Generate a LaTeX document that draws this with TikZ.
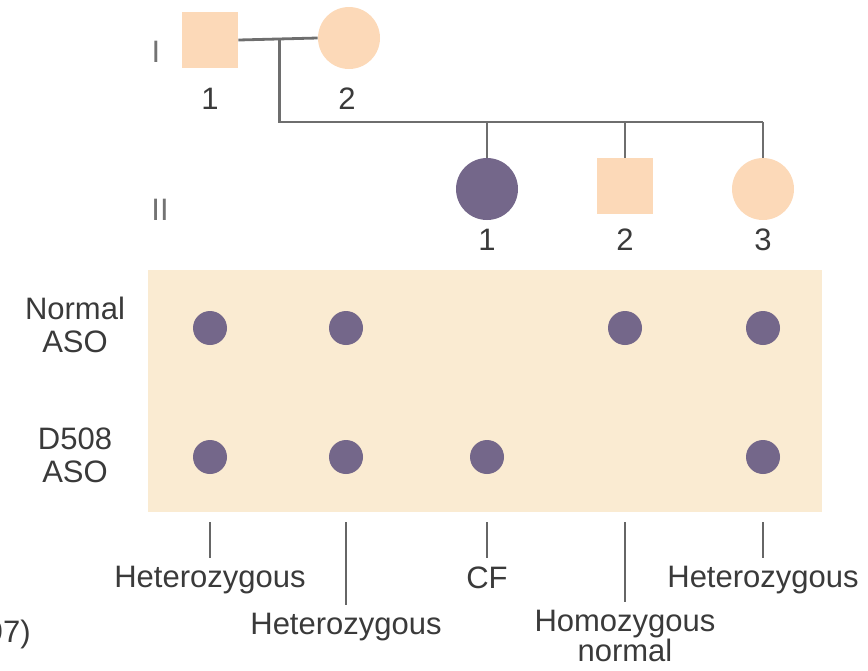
\documentclass[tikz,border=0pt]{standalone}
\usepackage{fontspec}
\setmainfont{Liberation Sans}
\usepackage{tikz}
\usetikzlibrary{positioning,calc}
\definecolor{carrier}{HTML}{FCD9B8}
\definecolor{affected}{HTML}{74678A}
\definecolor{blotbg}{HTML}{FAEBD2}
\definecolor{pedline}{HTML}{6E6E6E}
\definecolor{labgray}{HTML}{3A3A3A}
\tikzset{
  % stamtavla
  male/.style={rectangle,fill=carrier,minimum size=28pt,inner sep=0pt},
  female/.style={circle,fill=carrier,minimum size=31pt,inner sep=0pt},
  sick/.style={fill=affected},
  pl/.style={draw=pedline,line width=1.4pt},
  num/.style={font=\fontsize{15.5}{17}\selectfont,text=labgray,inner sep=0pt},
  gen/.style={font=\fontsize{15.5}{17}\selectfont,text=black!55,inner sep=0pt},
  % blot
  spot/.style={circle,fill=affected,minimum size=17pt,inner sep=0pt},
  rowlab/.style={font=\fontsize{15.5}{16.5}\selectfont,text=labgray,align=center,inner sep=0pt},
  tick/.style={draw=black!60,line width=0.9pt},
  res/.style={font=\fontsize{15.5}{15}\selectfont,text=labgray,align=center,inner sep=0pt,anchor=north},
}
\begin{document}
\begin{tikzpicture}[x=0.5pt,y=-0.5pt]
  \useasboundingbox (0,0) rectangle (868,670);
  % generation I
  \node[gen] (gI) at (156,52) {I};
  \node[male] (p1) at (210,40) {};
  \node[female] (p2) at (349,38) {};
  \node[num] (p1n) at (210,99) {1};
  \node[num] (p2n) at (347,99) {2};
  \draw[pl] (p1.east) -- (p2.west);
  \coordinate (m) at ($(p1.east)!0.52!(p2.west)$);
  \coordinate (s0) at (m |- 0,122);
  \coordinate (s3) at (763,122);
  \draw[pl] (m) -- (s0) -- (s3);
  % generation II
  \node[gen] (gII) at (160,210) {II};
  \node[female,sick] (c1) at (487,189) {};
  \node[male] (c2) at (625,186) {};
  \node[female] (c3) at (763,189) {};
  \foreach \i/\x in {1/487,2/625,3/763} {
    \node[num] (c\i n) at (\x,240) {\i};
    \draw[pl] (c\i.north |- s0) -- (c\i.north);
  }
  % dot blot
  \node[fill=blotbg,minimum width=337pt,minimum height=121pt,inner sep=0pt] (blot) at (485,391) {};
  \node[rowlab] (rn) at (75,325) {Normal\\ASO};
  \node[rowlab] (rd) at (75,455) {D508\\ASO};
  \foreach \x [count=\k] in {210,346,625,763} {
    \node[spot] (n\k) at (\x,328) {};
  }
  \foreach \x [count=\k] in {210,346,487,763} {
    \node[spot] (d\k) at (\x,457) {};
  }
  % genotypes
  \node[res] (g1) at (210,566) {Heterozygous};
  \node[res] (g2) at (346,613) {Heterozygous};
  \node[res] (g3) at (487,566) {CF};
  \node[res] (g4) at (625,610) {Homozygous\\normal};
  \node[res] (g5) at (763,566) {Heterozygous};
  \foreach \x [count=\k] in {210,346,487,625,763} {
    \coordinate (t\k) at (\x,522);
    \draw[tick] (t\k) -- ($(g\k.north)+(0,-8)$);
  }
  \node[rowlab,anchor=east] (src) at (31,634) {(1997)};
\end{tikzpicture}
\end{document}
